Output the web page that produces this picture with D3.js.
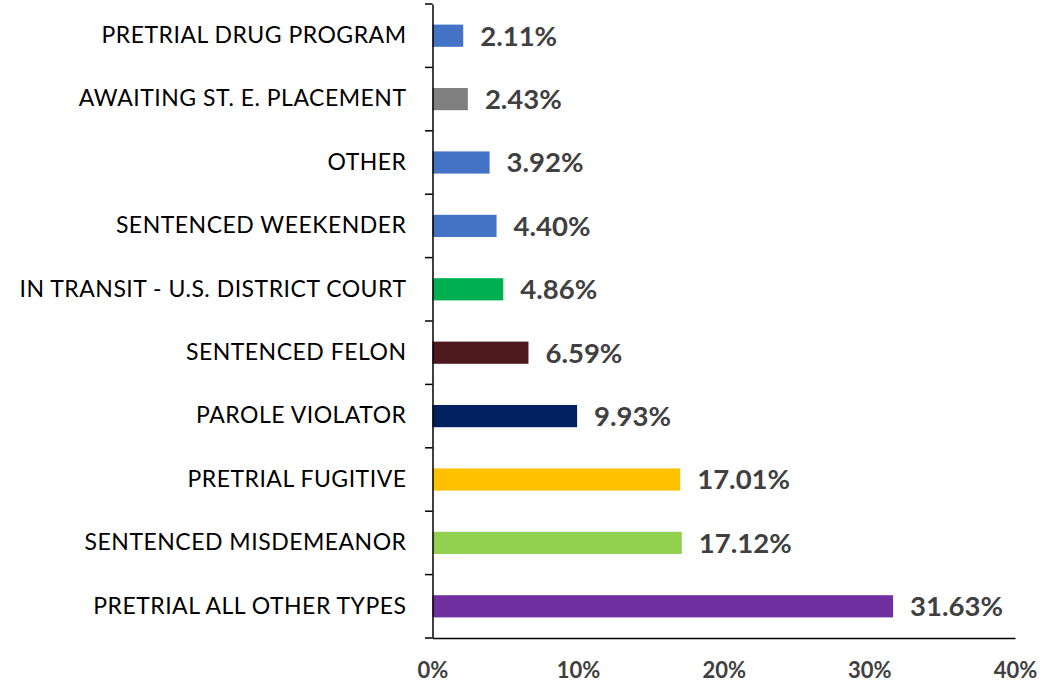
<!DOCTYPE html>
<html><head><meta charset="utf-8">
<script src="https://cdn.jsdelivr.net/npm/d3@7"></script>
<style>body{margin:0;background:#fff}svg{display:block}</style>
</head><body>
<svg id="c" width="1049" height="693"></svg>
<script>
const categories = ["PRETRIAL DRUG PROGRAM","AWAITING ST. E. PLACEMENT","OTHER","SENTENCED WEEKENDER","IN TRANSIT - U.S. DISTRICT COURT","SENTENCED FELON","PAROLE VIOLATOR","PRETRIAL FUGITIVE","SENTENCED MISDEMEANOR","PRETRIAL ALL OTHER TYPES"];
const values = [2.11,2.43,3.92,4.40,4.86,6.59,9.93,17.01,17.12,31.63];
const colors = ["#4472C4","#808080","#4472C4","#4472C4","#00B050","#4F1A1E","#002060","#FFC000","#92D050","#7030A0"];
const xTicks = [0,10,20,30,40];

const svg = d3.select("#c");
const font = "Lato, 'Open Sans', sans-serif";
const x = d3.scaleLinear().domain([0,40]).range([432.5,1015]);
const y = d3.scaleBand().domain(categories).range([4,638]).paddingInner(0.65).paddingOuter(0.325);

// bars
svg.append("g").selectAll("rect").data(values).join("rect")
  .attr("x", x(0)).attr("y", (d,i)=>y(categories[i]))
  .attr("width", d=>x(d)-x(0)).attr("height", y.bandwidth())
  .attr("fill", (d,i)=>colors[i]);

// value labels
svg.append("g").selectAll("text").data(values).join("text")
  .attr("x", d=>x(d)+17).attr("y", (d,i)=>y(categories[i])+y.bandwidth()/2)
  .attr("dy","0.36em")
  .attr("font-family", font).attr("font-weight","bold").attr("font-size", 27.5)
  .attr("fill","#404040").text(d=>d.toFixed(2)+"%");

// y axis
const yBand = d3.scaleBand().domain(categories).range([4,638]);
const ya = svg.append("g").attr("transform","translate(432.5,0)")
  .call(d3.axisLeft(yBand).tickSize(0).tickPadding(26));
ya.select(".domain").attr("stroke","#000").attr("stroke-width",1.5);
ya.selectAll("text").attr("font-family", font).attr("font-size", 23).attr("letter-spacing","0.5px").attr("fill","#000");
// boundary tick marks
const bounds = categories.map(c=>yBand(c)).concat([638]);
svg.append("g").selectAll("line").data(bounds).join("line")
  .attr("x1",425).attr("x2",432.5).attr("y1",d=>d).attr("y2",d=>d)
  .attr("stroke","#000").attr("stroke-width",1.5);

// x axis
const xa = svg.append("g").attr("transform","translate(0,638)")
  .call(d3.axisBottom(x).tickValues(xTicks).tickSize(0).tickPadding(24).tickFormat(d=>d+"%"));
xa.select(".domain").attr("stroke","#000").attr("stroke-width",1.5);
xa.selectAll("text").attr("font-family", font).attr("font-weight","bold").attr("font-size", 22).attr("fill","#404040");
</script>
</body></html>
